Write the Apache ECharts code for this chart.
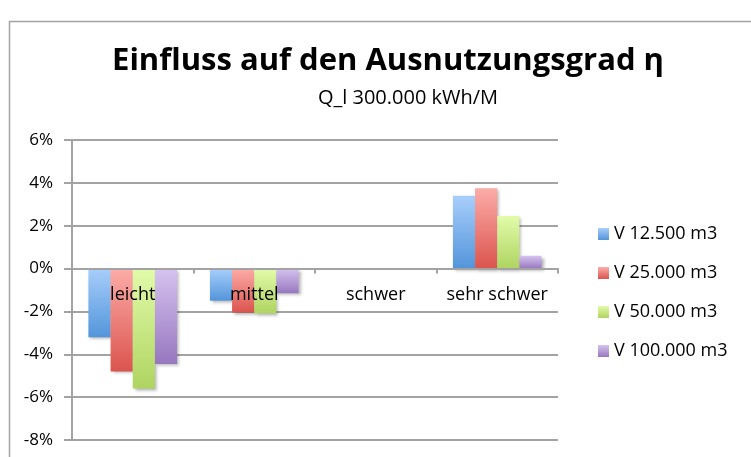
<!DOCTYPE html>
<html>
<head>
<meta charset="utf-8">
<script src="https://cdn.jsdelivr.net/npm/echarts@6/dist/echarts.min.js"></script>
<style>
  html, body { margin: 0; padding: 0; background: #fff; }
  #chart { width: 751px; height: 457px; }
</style>
</head>
<body>
<div id="chart"></div>
<script>
// Daten
const categories = ['leicht', 'mittel', 'schwer', 'sehr schwer']
const seriesNames = ['V 12.500 m3', 'V 25.000 m3', 'V 50.000 m3', 'V 100.000 m3']
const v12500 = [-3.2, -1.5, null, 3.4]
const v25000 = [-4.8, -2.05, null, 3.75]
const v50000 = [-5.6, -2.1, null, 2.45]
const v100000 = [-4.45, -1.15, null, 0.6]
const values = [v12500, v25000, v50000, v100000]

// Farben (hell oben, dunkel unten)
const colorTop = ['#a8cefb', '#fcaca8', '#e2fbaa', '#d6c3f0']
const colorBottom = ['#5395da', '#db544e', '#afd461', '#9777bf']

const FONT = '"Open Sans", "Liberation Sans", sans-serif'

const chart = echarts.init(document.getElementById('chart'))

const series = seriesNames.map((name, i) => ({
  name: name,
  type: 'bar',
  barGap: '0%',
  barCategoryGap: '27%',
  data: values[i],
  itemStyle: {
    color: new echarts.graphic.LinearGradient(0, 0, 0, 1, [
      { offset: 0, color: colorTop[i] },
      { offset: 1, color: colorBottom[i] }
    ]),
    shadowBlur: 3,
    shadowOffsetX: 2,
    shadowOffsetY: 2,
    shadowColor: 'rgba(0,0,0,0.3)'
  }
}))

const option = {
  animation: false,
  backgroundColor: '#fff',
  graphic: [{
    type: 'rect',
    left: 7,
    top: 19,
    shape: { width: 780, height: 480 },
    style: { fill: 'none', stroke: '#a3a3a3', lineWidth: 1.5 },
    silent: true
  }],
  title: [{
    text: 'Einfluss auf den Ausnutzungsgrad η',
    left: 383,
    textAlign: 'center',
    top: 41,
    textStyle: { fontFamily: FONT, fontSize: 31, fontWeight: 'bold', color: '#000' }
  }, {
    text: 'Q_l 300.000 kWh/M',
    left: 403,
    textAlign: 'center',
    top: 83,
    textStyle: { fontFamily: FONT, fontSize: 20, fontWeight: 'normal', color: '#000' }
  }],
  legend: {
    orient: 'vertical',
    left: 593,
    top: 220,
    itemWidth: 11,
    itemHeight: 12,
    itemGap: 21,
    itemStyle: { borderWidth: 0 },
    icon: 'rect',
    data: seriesNames,
    textStyle: { fontFamily: FONT, fontSize: 18, color: '#000' }
  },
  grid: {
    left: 72,
    right: 193,
    top: 140,
    bottom: 17
  },
  xAxis: {
    type: 'category',
    data: categories,
    z: 5,
    // Achse auf die 0-Linie schieben (Beschriftung direkt unter 0 %)
    offset: -171.4,
    axisLine: { onZero: false, lineStyle: { color: '#a3a3a3', width: 2 } },
    axisTick: { show: true, length: 5, lineStyle: { color: '#a3a3a3', width: 2 } },
    axisLabel: { fontFamily: FONT, fontSize: 18, color: '#000', margin: 17, interval: 0 }
  },
  yAxis: {
    type: 'value',
    min: -8,
    max: 6,
    interval: 2,
    axisLine: { show: true, lineStyle: { color: '#a3a3a3', width: 2 } },
    axisTick: { show: true, length: 8, lineStyle: { color: '#a3a3a3', width: 2 } },
    splitLine: { lineStyle: { color: '#a3a3a3', width: 2 } },
    axisLabel: {
      fontFamily: FONT, fontSize: 17, color: '#000', margin: 19,
      formatter: v => v + '%'
    }
  },
  series: series
}

chart.setOption(option)
</script>
</body>
</html>
